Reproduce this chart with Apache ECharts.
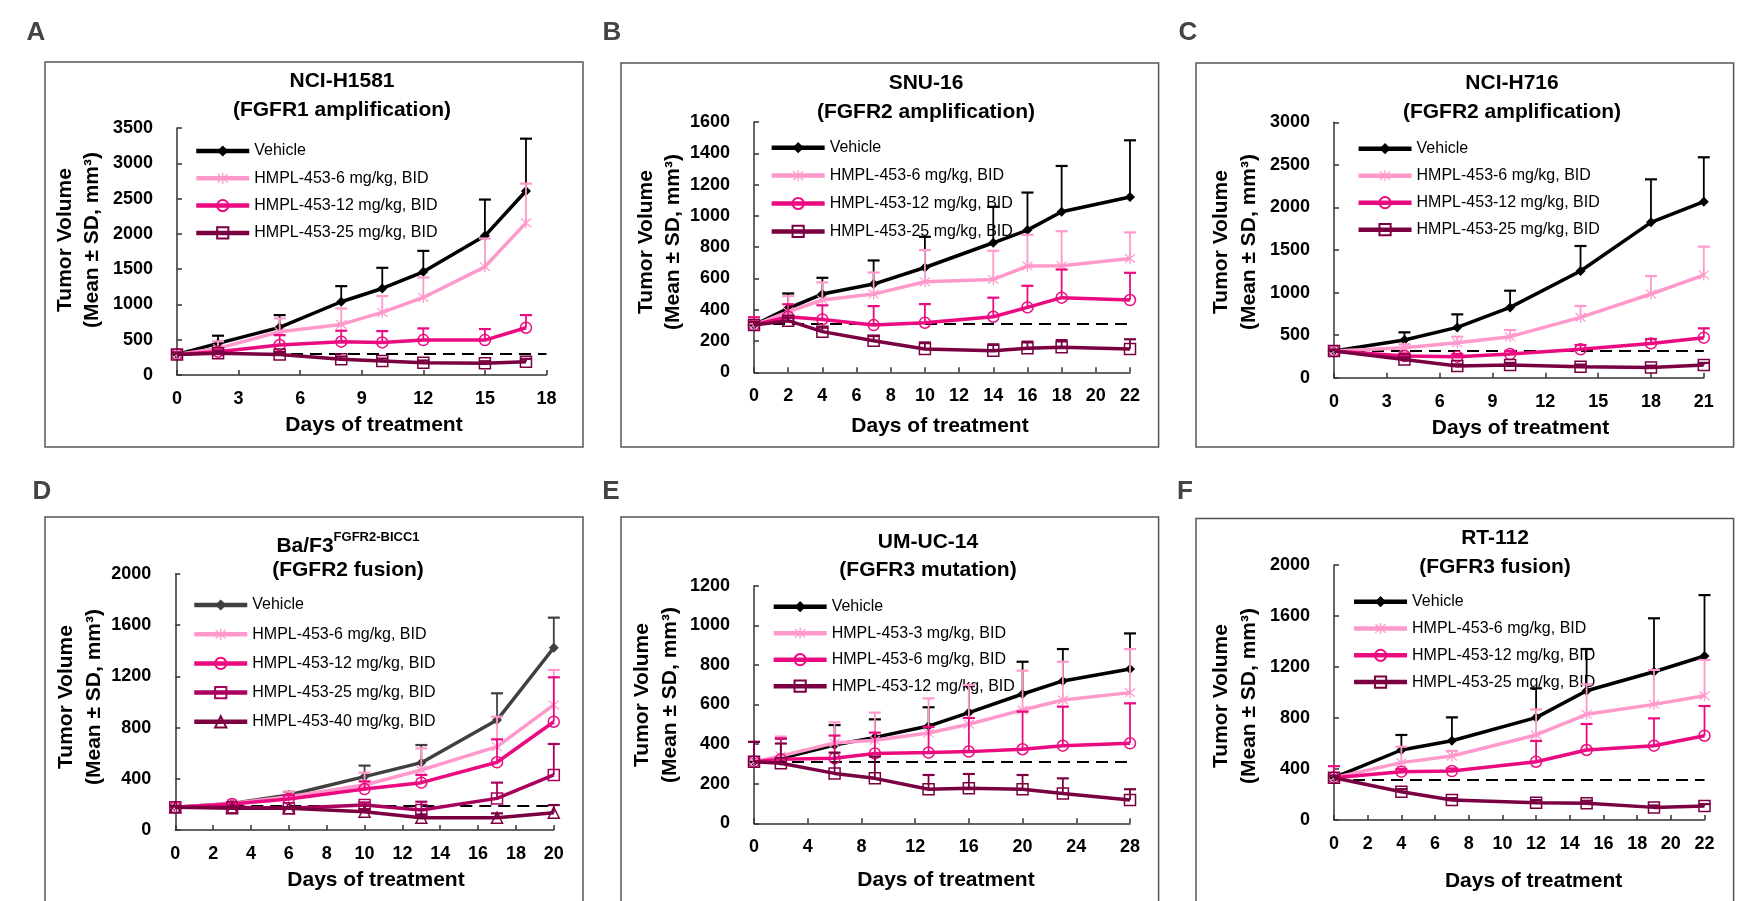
<!DOCTYPE html>
<html>
<head>
<meta charset="utf-8">
<script src="https://cdn.jsdelivr.net/npm/echarts@6/dist/echarts.min.js"></script>
<style>html,body{margin:0;padding:0;background:#fff}#c{width:1744px;height:901px}</style>
</head>
<body>
<div id="c"></div>
<script>
// ---------------- DATA ----------------
// Panel A: NCI-H1581
const A_days = [0, 2, 5, 8, 10, 12, 15, 17];
const A_vehicle = [292, 448, 675, 1038, 1226, 1462, 1972, 2608];
const A_vehicle_sd = [25, 109, 174, 221, 293, 297, 514, 741];
const A_d6 = [292, 377, 613, 717, 887, 1099, 1533, 2156];
const A_d6_sd = [25, 100, 189, 226, 231, 283, 401, 556];
const A_d12 = [292, 330, 425, 472, 462, 495, 495, 670];
const A_d12_sd = [25, 30, 140, 155, 160, 165, 156, 179];
const A_d25 = [292, 307, 292, 222, 198, 175, 165, 189];
const A_d25_sd = [25, 30, 35, 40, 35, 30, 30, 40];
const A_base = 297;

// Panel B: SNU-16
const B_days = [0, 2, 4, 7, 10, 14, 16, 18, 22];
const B_vehicle = [302, 409, 500, 564, 670, 828, 909, 1026, 1121];
const B_vehicle_sd = [10, 95, 104, 151, 196, 230, 240, 293, 362];
const B_d6 = [302, 387, 462, 500, 579, 594, 679, 681, 728];
const B_d6_sd = [10, 100, 113, 138, 202, 183, 200, 221, 166];
const B_d12 = [302, 355, 338, 302, 317, 355, 415, 477, 462];
const B_d12_sd = [50, 80, 90, 121, 119, 122, 138, 180, 174];
const B_d25 = [302, 330, 260, 202, 149, 138, 153, 160, 149];
const B_d25_sd = [20, 20, 25, 30, 42, 41, 43, 46, 62];
const B_base = 309;

// Panel C: NCI-H716
const C_days = [0, 4, 7, 10, 14, 18, 21];
const C_vehicle = [313, 443, 591, 826, 1253, 1825, 2068];
const C_vehicle_sd = [15, 90, 153, 196, 294, 505, 521];
const C_d6 = [313, 352, 411, 482, 709, 983, 1206];
const C_d6_sd = [15, 40, 71, 78, 133, 211, 333];
const C_d12 = [313, 255, 247, 278, 333, 403, 470];
const C_d12_sd = [15, 30, 30, 35, 51, 51, 110];
const C_d25 = [313, 215, 137, 149, 129, 121, 149];
const C_d25_sd = [15, 25, 20, 25, 25, 20, 25];
const C_base = 317;

// Panel D: Ba/F3 FGFR2-BICC1
const D_days = [0, 3, 6, 10, 13, 17, 20];
const D_vehicle = [177, 208, 273, 417, 526, 859, 1424];
const D_vehicle_sd = [10, 10, 25, 86, 138, 209, 235];
const D_d6 = [177, 208, 260, 352, 469, 651, 977];
const D_d6_sd = [10, 10, 39, 96, 169, 234, 273];
const D_d12 = [177, 203, 242, 320, 370, 529, 846];
const D_d12_sd = [10, 10, 30, 60, 60, 179, 347];
const D_d25 = [177, 177, 169, 195, 156, 247, 430];
const D_d25_sd = [10, 10, 10, 20, 65, 123, 242];
const D_d40 = [177, 169, 169, 143, 96, 96, 135];
const D_d40_sd = [10, 10, 10, 20, 25, 34, 60];
const D_base = 187;

// Panel E: UM-UC-14
const E_days = [0, 2, 6, 9, 13, 16, 20, 23, 28];
const E_vehicle = [311, 328, 395, 434, 491, 559, 653, 719, 779];
const E_vehicle_sd = [10, 100, 101, 91, 95, 134, 163, 161, 180];
const E_d3 = [311, 340, 406, 419, 456, 500, 572, 623, 660];
const E_d3_sd = [10, 98, 104, 140, 175, 198, 199, 193, 220];
const E_d6 = [311, 323, 328, 353, 357, 362, 374, 392, 404];
const E_d6_sd = [100, 106, 115, 105, 130, 170, 190, 197, 202];
const E_d12 = [311, 303, 252, 227, 172, 177, 172, 151, 118];
const E_d12_sd = [100, 100, 105, 110, 72, 72, 72, 76, 54];
const E_base = 311;

// Panel F: RT-112
const F_days = [0, 4, 7, 12, 15, 19, 22];
const F_vehicle = [332, 549, 622, 803, 1014, 1163, 1286];
const F_vehicle_sd = [15, 118, 183, 230, 327, 419, 478];
const F_d6 = [332, 450, 502, 667, 829, 907, 975];
const F_d6_sd = [15, 125, 40, 200, 235, 270, 280];
const F_d12 = [332, 379, 384, 457, 549, 583, 661];
const F_d12_sd = [90, 20, 20, 163, 204, 214, 233];
const F_d25 = [332, 222, 157, 136, 131, 99, 110];
const F_d25_sd = [15, 20, 15, 20, 20, 15, 15];
const F_base = 319;

// Legend labels
const L_vehicle = 'Vehicle';
const L_3 = 'HMPL-453-3 mg/kg, BID';
const L_6 = 'HMPL-453-6 mg/kg, BID';
const L_12 = 'HMPL-453-12 mg/kg, BID';
const L_25 = 'HMPL-453-25 mg/kg, BID';
const L_40 = 'HMPL-453-40 mg/kg, BID';

// ---------------- STYLE ----------------
const FONT = '"Liberation Sans", Arial, sans-serif';
const C_BLACK = '#000000', C_GRAY = '#404040', C_LPINK = '#FF99CC', C_PINK = '#EC0A80', C_MAROON = '#7A0042', C_MID = '#A8005C';
const ASTER = 'path://M9,0L11,0L11,20L9,20Z M1.4,2.8L2.8,1.4L18.6,17.2L17.2,18.6Z M17.2,1.4L18.6,2.8L2.8,18.6L1.4,17.2Z';
const ST = {
  veh:  { sym: 'diamond', size: 10, hollow: false },
  ast:  { sym: ASTER, size: 11, hollow: false },
  circ: { sym: 'circle', size: 11, hollow: true },
  sq:   { sym: 'rect', size: 11, hollow: true },
  tri:  { sym: 'triangle', size: 11, hollow: true }
};

const panels = [
  { id: 'A', letter: [36, 33], box: [45, 62, 538, 385], grid: [177, 128, 546.5, 375],
    title: ['NCI-H1581', '(FGFR1 amplification)'], titlePos: [342, 81, 110],
    xmax: 18, xint: 3, ymax: 3500, yint: 500, base: A_base, days: A_days,
    legend: [194, 143, 11.3], ytitle: [65, 92, 240], xtitle: [374, 425],
    series: [[L_vehicle, A_vehicle, A_vehicle_sd, C_BLACK, 'veh'], [L_6, A_d6, A_d6_sd, C_LPINK, 'ast'],
             [L_12, A_d12, A_d12_sd, C_PINK, 'circ'], [L_25, A_d25, A_d25_sd, C_MAROON, 'sq']] },
  { id: 'B', letter: [612, 33], box: [621, 63, 537.6, 384], grid: [754, 122, 1130, 372.3],
    title: ['SNU-16', '(FGFR2 amplification)'], titlePos: [926, 83, 112],
    xmax: 22, xint: 2, ymax: 1600, yint: 200, base: B_base, days: B_days,
    legend: [769.4, 139.7, 11.9], ytitle: [646, 673, 242], xtitle: [940, 426],
    series: [[L_vehicle, B_vehicle, B_vehicle_sd, C_BLACK, 'veh'], [L_6, B_d6, B_d6_sd, C_LPINK, 'ast'],
             [L_12, B_d12, B_d12_sd, C_PINK, 'circ'], [L_25, B_d25, B_d25_sd, C_MAROON, 'sq']] },
  { id: 'C', letter: [1188, 33], box: [1196, 63, 537.6, 384], grid: [1334, 122.3, 1703.8, 377.7],
    title: ['NCI-H716', '(FGFR2 amplification)'], titlePos: [1512, 83, 112],
    xmax: 21, xint: 3, ymax: 3000, yint: 500, base: C_base, days: C_days,
    legend: [1356.3, 140.7, 11], ytitle: [1221, 1249.4, 242], xtitle: [1520.5, 428],
    series: [[L_vehicle, C_vehicle, C_vehicle_sd, C_BLACK, 'veh'], [L_6, C_d6, C_d6_sd, C_LPINK, 'ast'],
             [L_12, C_d12, C_d12_sd, C_PINK, 'circ'], [L_25, C_d25, C_d25_sd, C_MAROON, 'sq']] },
  { id: 'D', letter: [42, 492], box: [45, 517, 538, 390], grid: [175.3, 574, 553.8, 830],
    title: null, titlePos: [348, 544, 570],
    xmax: 20, xint: 2, ymax: 2000, yint: 400, base: D_base, days: D_days,
    legend: [192, 597, 13.2], ytitle: [66, 94, 697], xtitle: [376, 880],
    series: [[L_vehicle, D_vehicle, D_vehicle_sd, C_GRAY, 'veh'], [L_6, D_d6, D_d6_sd, C_LPINK, 'ast'],
             [L_12, D_d12, D_d12_sd, C_PINK, 'circ'], [L_25, D_d25, D_d25_sd, C_MID, 'sq'],
             [L_40, D_d40, D_d40_sd, C_MAROON, 'tri']] },
  { id: 'E', letter: [611, 492], box: [621, 517, 537.6, 390], grid: [754, 585.7, 1130, 823.3],
    title: ['UM-UC-14', '(FGFR3 mutation)'], titlePos: [928, 542, 570],
    xmax: 28, xint: 4, ymax: 1200, yint: 200, base: E_base, days: E_days,
    legend: [771.4, 598.7, 10.5], ytitle: [642.4, 670.3, 695], xtitle: [946, 880],
    series: [[L_vehicle, E_vehicle, E_vehicle_sd, C_BLACK, 'veh'], [L_3, E_d3, E_d3_sd, C_LPINK, 'ast'],
             [L_6, E_d6, E_d6_sd, C_PINK, 'circ'], [L_12, E_d12, E_d12_sd, C_MAROON, 'sq']] },
  { id: 'F', letter: [1185, 492], box: [1196, 518.5, 537.6, 390], grid: [1334, 565, 1704.5, 820],
    title: ['RT-112', '(FGFR3 fusion)'], titlePos: [1495, 538, 567],
    xmax: 22, xint: 2, ymax: 2000, yint: 400, base: F_base, days: F_days,
    legend: [1351.8, 593.7, 10.8], ytitle: [1221.5, 1249.4, 696], xtitle: [1533.6, 881.7],
    series: [[L_vehicle, F_vehicle, F_vehicle_sd, C_BLACK, 'veh'], [L_6, F_d6, F_d6_sd, C_LPINK, 'ast'],
             [L_12, F_d12, F_d12_sd, C_PINK, 'circ'], [L_25, F_d25, F_d25_sd, C_MAROON, 'sq']] }
];

const grid = [], xAxis = [], yAxis = [], series = [], legend = [], graphic = [];

panels.forEach((p, gi) => {
  const [gl, gt, gr, gb] = p.grid;
  grid.push({ left: gl, top: gt, width: gr - gl, height: gb - gt, containLabel: false });
  const axisCommon = {
    axisLine: { show: true, onZero: false, lineStyle: { color: '#333', width: 1.5 } },
    axisTick: { show: true, inside: true, length: 5, lineStyle: { color: '#333', width: 1.5 } },
    splitLine: { show: false },
    axisLabel: { fontFamily: FONT, fontWeight: 'bold', fontSize: 18, color: '#000', formatter: v => String(v) }
  };
  xAxis.push(Object.assign({}, axisCommon, { type: 'value', gridIndex: gi, min: 0, max: p.xmax, interval: p.xint,
    axisLabel: Object.assign({}, axisCommon.axisLabel, { margin: 15 }) }));
  yAxis.push(Object.assign({}, axisCommon, { type: 'value', gridIndex: gi, min: 0, max: p.ymax, interval: p.yint,
    axisLabel: Object.assign({}, axisCommon.axisLabel, { margin: 24 }) }));

  const legendNames = [];
  p.series.forEach((s, si) => {
    const [label, mean, sd, col, stKey] = s;
    const st = ST[stKey];
    const name = p.id + '|' + label;
    legendNames.push(name);
    const ser = {
      type: 'line', name: name, xAxisIndex: gi, yAxisIndex: gi,
      data: p.days.map((d, i) => [d, mean[i]]),
      symbol: st.sym, symbolSize: st.size, showSymbol: true,
      lineStyle: { color: col, width: 3.5 },
      itemStyle: st.hollow ? { color: 'rgba(255,255,255,0)', borderColor: col, borderWidth: 1.5 } : { color: col },
      z: 3 + si, silent: true, animation: false
    };
    if (si === 0) {
      ser.markLine = { silent: true, symbol: 'none', label: { show: false },
        lineStyle: { type: [12, 7], color: '#000', width: 2 }, data: [{ yAxis: p.base }], z: 2 };
    }
    series.push(ser);
    series.push({
      type: 'custom', name: name + '#err', xAxisIndex: gi, yAxisIndex: gi, silent: true, animation: false,
      z: 3 + si, clip: false,
      data: p.days.map((d, i) => [d, mean[i], sd[i]]),
      encode: { x: 0, y: 1 },
      renderItem: (params, api) => {
        const x = api.value(0), y = api.value(1), e = api.value(2);
        const p0 = api.coord([x, y]);
        const p1 = api.coord([x, y + e]);
        return { type: 'group', children: [
          { type: 'line', shape: { x1: p0[0], y1: p0[1], x2: p1[0], y2: p1[1] }, style: { stroke: col, lineWidth: 1.8 } },
          { type: 'line', shape: { x1: p1[0] - 6, y1: p1[1], x2: p1[0] + 6, y2: p1[1] }, style: { stroke: col, lineWidth: 2.2 } }
        ] };
      }
    });
  });

  legend.push({
    left: p.legend[0], top: p.legend[1], orient: 'vertical', padding: 0,
    itemWidth: 53, itemHeight: 14, itemGap: p.legend[2], selectedMode: false,
    data: legendNames, formatter: n => n.split('|')[1],
    lineStyle: { width: 4.5 },
    textStyle: { fontFamily: FONT, fontSize: 16, color: '#000' }
  });

  // frame box
  graphic.push({ type: 'rect', silent: true, shape: { x: p.box[0], y: p.box[1], width: p.box[2], height: p.box[3] },
    style: { fill: 'none', stroke: '#555', lineWidth: 1.5 }, z: 0 });
  // panel letter
  graphic.push({ type: 'text', silent: true, x: p.letter[0], y: p.letter[1],
    style: { text: p.id, fontFamily: FONT, fontWeight: 'bold', fontSize: 26, fill: '#444', textAlign: 'center', textVerticalAlign: 'middle' } });
  // title
  if (p.title) {
    graphic.push({ type: 'text', silent: true, x: p.titlePos[0], y: p.titlePos[1],
      style: { text: p.title[0], fontFamily: FONT, fontWeight: 'bold', fontSize: 21, fill: '#000', textAlign: 'center', textVerticalAlign: 'middle' } });
    graphic.push({ type: 'text', silent: true, x: p.titlePos[0], y: p.titlePos[2],
      style: { text: p.title[1], fontFamily: FONT, fontWeight: 'bold', fontSize: 21, fill: '#000', textAlign: 'center', textVerticalAlign: 'middle' } });
  } else {
    graphic.push({ type: 'text', silent: true, x: p.titlePos[0], y: p.titlePos[1],
      style: { text: '{b|Ba/F3}{s|FGFR2-BICC1}', textAlign: 'center', textVerticalAlign: 'middle',
        rich: { b: { fontFamily: FONT, fontWeight: 'bold', fontSize: 21, fill: '#000', lineHeight: 26, verticalAlign: 'bottom' },
                s: { fontFamily: FONT, fontWeight: 'bold', fontSize: 13, fill: '#000', lineHeight: 26, verticalAlign: 'top', padding: [0, 0, 6, 0] } } } });
    graphic.push({ type: 'text', silent: true, x: p.titlePos[0], y: p.titlePos[2],
      style: { text: '(FGFR2 fusion)', fontFamily: FONT, fontWeight: 'bold', fontSize: 21, fill: '#000', textAlign: 'center', textVerticalAlign: 'middle' } });
  }
  // y title (two rotated lines)
  graphic.push({ type: 'text', silent: true, x: p.ytitle[0], y: p.ytitle[2], rotation: Math.PI / 2,
    style: { text: 'Tumor Volume', fontFamily: FONT, fontWeight: 'bold', fontSize: 21, fill: '#000', textAlign: 'center', textVerticalAlign: 'middle' } });
  graphic.push({ type: 'text', silent: true, x: p.ytitle[1], y: p.ytitle[2], rotation: Math.PI / 2,
    style: { text: '(Mean \u00B1 SD, mm\u00B3)', fontFamily: FONT, fontWeight: 'bold', fontSize: 21, fill: '#000', textAlign: 'center', textVerticalAlign: 'middle' } });
  // x title
  graphic.push({ type: 'text', silent: true, x: p.xtitle[0], y: p.xtitle[1],
    style: { text: 'Days of treatment', fontFamily: FONT, fontWeight: 'bold', fontSize: 21, fill: '#000', textAlign: 'center', textVerticalAlign: 'middle' } });
});

const chart = echarts.init(document.getElementById('c'), null, { renderer: 'canvas' });
chart.setOption({
  animation: false,
  backgroundColor: '#fff',
  grid, xAxis, yAxis, series, legend, graphic
});
</script>
</body>
</html>
